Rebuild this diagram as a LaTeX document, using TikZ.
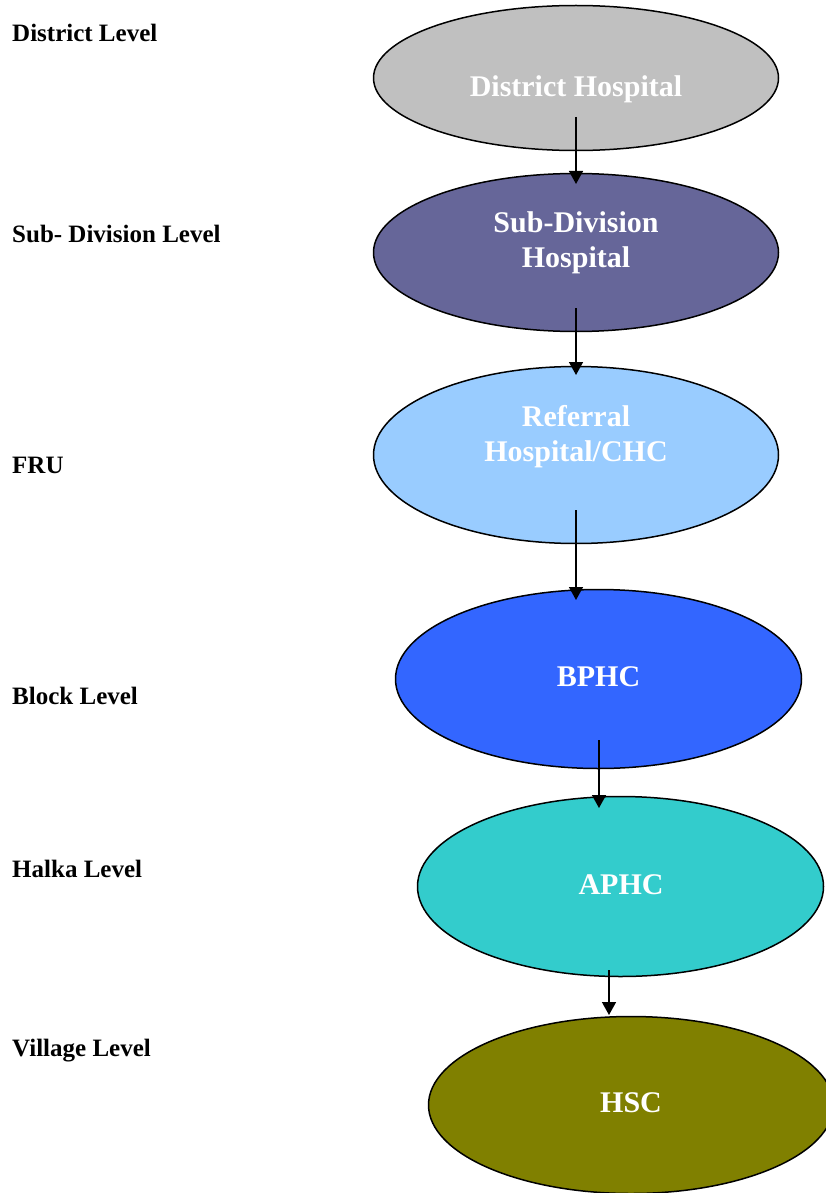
\documentclass[tikz,border=0pt]{standalone}
\usepackage{fontspec}
\setmainfont{Liberation Serif}
\usetikzlibrary{shapes.geometric,arrows.meta}
\definecolor{cDH}{HTML}{C0C0C0}
\definecolor{cSD}{HTML}{666699}
\definecolor{cRH}{HTML}{99CCFF}
\definecolor{cBP}{HTML}{3366FF}
\definecolor{cAP}{HTML}{33CCCC}
\definecolor{cHS}{HTML}{808000}
\begin{document}
\begin{tikzpicture}[x=1pt,y=-1pt,
  lvl/.style={anchor=base west,inner sep=0pt,font=\fontsize{25}{30}\selectfont\bfseries},
  hosp/.style={ellipse,draw=black,line width=1.5pt,inner sep=0pt},
  htext/.style={anchor=base,inner sep=0pt,align=center,text=white,font=\fontsize{30}{34.5}\selectfont\bfseries},
  arr/.style={line width=1.5pt,-{Triangle[width=14pt,length=13pt]}}]
\useasboundingbox (0,0) rectangle (825,1193);
\fill[white] (0,0) rectangle (825,1193);

% level labels
\node[lvl] (l1) at (12,42) {District Level};
\node[lvl] (l2) at (12,242) {Sub- Division Level};
\node[lvl] (l3) at (12,473) {FRU};
\node[lvl] (l4) at (12,704) {Block Level};
\node[lvl] (l5) at (12,877) {Halka Level};
\node[lvl] (l6) at (12,1056) {Village Level};

% ellipses
\node[hosp,fill=cDH,minimum width=405pt,minimum height=145pt] (e1) at (576,78) {};
\node[hosp,fill=cSD,minimum width=405pt,minimum height=158pt] (e2) at (576,252.5) {};
\node[hosp,fill=cRH,minimum width=405pt,minimum height=177pt] (e3) at (576,455) {};
\node[hosp,fill=cBP,minimum width=406pt,minimum height=179pt] (e4) at (598.5,679) {};
\node[hosp,fill=cAP,minimum width=406pt,minimum height=180pt] (e5) at (620.5,886.5) {};
\node[hosp,fill=cHS,minimum width=405pt,minimum height=177pt] (e6) at (631,1105) {};

% ellipse texts (base = baseline of last line)
\node[htext] (t1) at (576,97) {District Hospital};
\node[htext] (t2) at (576,267) {Sub-Division\\Hospital};
\node[htext] (t3) at (576,461) {Referral\\Hospital/CHC};
\node[htext] (t4) at (598.5,686) {BPHC};
\node[htext] (t5) at (621,894) {APHC};
\node[htext] (t6) at (631,1112) {HSC};

% arrow ends
\coordinate (a1s) at (576,117);  \coordinate (a1e) at (576,184);
\coordinate (a2s) at (576,308);  \coordinate (a2e) at (576,375);
\coordinate (a3s) at (576,510);  \coordinate (a3e) at (576,600);
\coordinate (a4s) at (599,740);  \coordinate (a4e) at (599,808);
\coordinate (a5s) at (609,970);  \coordinate (a5e) at (609,1015);

\draw[arr] (a1s) -- (a1e);
\draw[arr] (a2s) -- (a2e);
\draw[arr] (a3s) -- (a3e);
\draw[arr] (a4s) -- (a4e);
\draw[arr] (a5s) -- (a5e);
\end{tikzpicture}
\end{document}
